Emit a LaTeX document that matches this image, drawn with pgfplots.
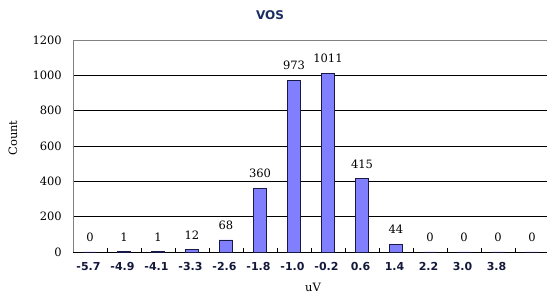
\documentclass[border=0pt]{standalone}
\usepackage{pgfplots}
\pgfplotsset{compat=1.18}
\usepackage{fontspec}
\setmainfont{DejaVu Serif}
\newfontfamily\sansb{DejaVu Sans}
\definecolor{barfill}{RGB}{128,128,255}
\definecolor{bardraw}{RGB}{25,25,70}
\definecolor{ticknavy}{RGB}{20,25,60}
\definecolor{titlenavy}{RGB}{25,45,100}
\newcommand\serifsz{\fontsize{11.5pt}{13pt}\selectfont}
\begin{document}
\begin{tikzpicture}
\begin{axis}[
  name=ax, anchor=south west, at={(0pt,0pt)},
  scale only axis, width=476pt, height=212pt,
  xmin=-0.5, xmax=13.5, ymin=0, ymax=1200,
  ybar, bar width=13.5pt,
  axis x line*=bottom, axis y line*=left, axis line style={-},
  x axis line style={black, line width=0.9pt},
  y axis line style={gray, line width=0.9pt},
  xtick={0,...,12},
  xticklabels={-5.7,-4.9,-4.1,-3.3,-2.6,-1.8,-1.0,-0.2,0.6,1.4,2.2,3.0,3.8},
  minor xtick={0.5,1.5,...,12.5},
  major tick length=0pt, minor tick length=4pt, tick align=inside,
  minor tick style={black, line width=0.6pt},
  xticklabel style={font=\sansb\bfseries\fontsize{11pt}{12pt}\selectfont, text=ticknavy, anchor=north, inner sep=0pt, yshift=-10pt, xshift=-1.5pt},
  ytick={0,200,...,1000},
  extra y ticks={1200},
  extra y tick style={grid=major, major grid style={gray, line width=0.9pt}},
  ymajorgrids, major grid style={black, line width=0.8pt},
  yticklabel style={font=\serifsz, anchor=east, inner sep=0pt, xshift=-11pt},
  /pgf/number format/1000 sep={},
  /pgf/number format/assume math mode=true,
  nodes near coords,
  every node near coord/.append style={font=\serifsz, anchor=south, inner sep=0pt, yshift=10pt, text=black},
  clip=false,
]
\addplot[fill=barfill, draw=bardraw, line width=0.8pt] coordinates {
  (0,0) (1,1) (2,1) (3,12) (4,68) (5,360) (6,973) (7,1011) (8,415) (9,44) (10,0) (11,0) (12,0) (13,0)
};
\end{axis}
\node[font=\sansb\bfseries\fontsize{12pt}{13pt}\selectfont, text=titlenavy] at (197pt,237pt) {VOS};
\node[font=\serifsz, rotate=90] at (-60pt,114pt) {Count};
\node[font=\serifsz] at (240pt,-35pt) {uV};
\pgfresetboundingbox
\path[use as bounding box] (-73pt,-44pt) rectangle (474pt,252pt);
\end{tikzpicture}
\end{document}
